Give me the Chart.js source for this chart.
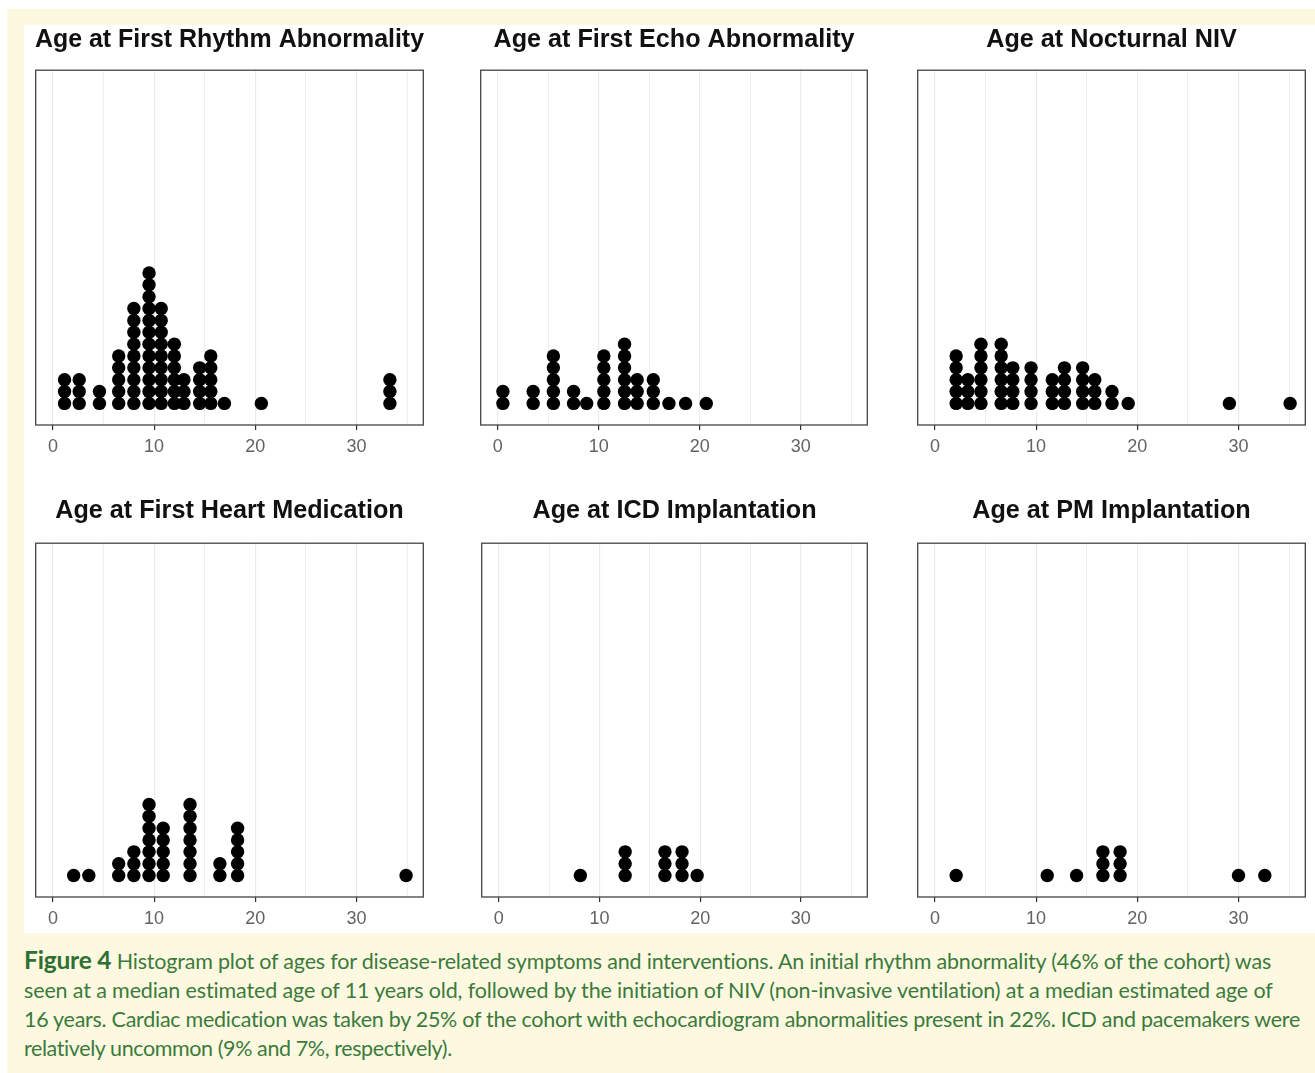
<!DOCTYPE html>
<html>
<head>
<meta charset="utf-8">
<title>Figure 4</title>
<script src="https://cdn.jsdelivr.net/npm/chart.js@4.4.1/dist/chart.umd.min.js"></script>
<style>
	body { margin: 0; background: #fff; width: 1315px; height: 1073px; position: relative; overflow: hidden; }
	#frame { position: absolute; left: 7px; top: 9px; width: 1308px; height: 1064px; background: #fdf9e1; }
	#figure { position: absolute; left: 24px; top: 25px; width: 1291px; height: 908px; background: #fff; }
	canvas { position: absolute; }
	#caption { position: absolute; left: 24px; top: 944.5px; font-family: Lato, "Open Sans", sans-serif; font-size: 21.5px; line-height: 29.3px; color: #3c7a3c; }
	#caption div { white-space: nowrap; display: block; width: max-content; }
	#caption b { color: #2f6f32; font-size: 24.5px; }
</style>
</head>
<body>
<div id="frame"></div>
<div id="figure"></div>
<canvas id="c1"></canvas>
<canvas id="c2"></canvas>
<canvas id="c3"></canvas>
<canvas id="c4"></canvas>
<canvas id="c5"></canvas>
<canvas id="c6"></canvas>
<div id="caption">
	<div data-w="1248"><b>Figure 4</b> Histogram plot of ages for disease-related symptoms and interventions. An initial rhythm abnormality (46% of the cohort) was</div>
	<div data-w="1251">seen at a median estimated age of 11 years old, followed by the initiation of NIV (non-invasive ventilation) at a median estimated age of</div>
	<div data-w="1277">16 years. Cardiac medication was taken by 25% of the cohort with echocardiogram abnormalities present in 22%. ICD and pacemakers were</div>
	<div data-w="429">relatively uncommon (9% and 7%, respectively).</div>
</div>
<script>
	"use strict";
	// ages (years) of each dot column, and how many patients are stacked in it
	var rhythmAges = [1.15, 2.6, 4.6, 6.5, 8.0, 9.5, 10.7, 12.0, 12.95, 14.5, 15.6, 16.95, 20.6, 33.3];
	var rhythmCounts = [3, 3, 2, 5, 9, 12, 9, 6, 3, 4, 5, 1, 1, 3];

	var echoAges = [0.5, 3.5, 5.5, 7.5, 8.8, 10.5, 12.55, 13.8, 15.4, 16.95, 18.6, 20.65];
	var echoCounts = [2, 2, 5, 2, 1, 5, 6, 3, 3, 1, 1, 1];

	var nivAges = [2.1, 3.25, 4.55, 6.55, 7.7, 9.5, 11.6, 12.8, 14.6, 15.8, 17.5, 19.1, 29.1, 35.1];
	var nivCounts = [5, 3, 6, 6, 4, 4, 3, 4, 4, 3, 2, 1, 1, 1];

	var heartAges = [2.05, 3.55, 6.5, 8.0, 9.5, 10.9, 13.55, 16.5, 18.25, 34.9];
	var heartCounts = [1, 1, 2, 3, 7, 5, 7, 2, 5, 1];

	var icdAges = [8.1, 12.55, 16.5, 18.2, 19.7];
	var icdCounts = [1, 3, 3, 3, 1];

	var pmAges = [2.1, 11.1, 14.0, 16.6, 18.3, 30.0, 32.6];
	var pmCounts = [1, 1, 1, 3, 3, 1, 1];

	var tickLabels = [0, 10, 20, 30];
	var gridAges = [0, 5, 10, 15, 20, 25, 30, 35];

	// where each panel sits on the page
	var panels = [
		{ id: 'c1', title: 'Age at First Rhythm Abnormality', ages: rhythmAges, counts: rhythmCounts, left: 35, width: 389, row: 0 },
		{ id: 'c2', title: 'Age at First Echo Abnormality', ages: echoAges, counts: echoCounts, left: 480, width: 388, row: 0 },
		{ id: 'c3', title: 'Age at Nocturnal NIV', ages: nivAges, counts: nivCounts, left: 917, width: 389, row: 0 },
		{ id: 'c4', title: 'Age at First Heart Medication', ages: heartAges, counts: heartCounts, left: 35, width: 389, row: 1 },
		{ id: 'c5', title: 'Age at ICD Implantation', ages: icdAges, counts: icdCounts, left: 481, width: 387, row: 1 },
		{ id: 'c6', title: 'Age at PM Implantation', ages: pmAges, counts: pmCounts, left: 917, width: 389, row: 1 }
	];
	var rows = [
		{ top: 15, height: 450, titleGap: 18 },
		{ top: 486, height: 451, titleGap: 20 }
	];
	var sidePad = 6;

	var panelBorder = {
		id: 'panelBorder',
		afterDraw: function(chart) {
			var ctx = chart.ctx, a = chart.chartArea;
			ctx.save();
			ctx.strokeStyle = '#444';
			ctx.lineWidth = 1.3;
			ctx.strokeRect(a.left, a.top, a.right - a.left, a.bottom - a.top);
			ctx.restore();
		}
	};

	function isMajor(v) {
		return tickLabels.indexOf(v) !== -1;
	}

	function makePanel(p) {
		var row = rows[p.row];
		var canvas = document.getElementById(p.id);
		canvas.width = p.width + sidePad * 2;
		canvas.height = row.height;
		canvas.style.left = (p.left - sidePad) + 'px';
		canvas.style.top = row.top + 'px';

		var points = [];
		for (var i = 0; i < p.ages.length; i++) {
			for (var k = 0; k < p.counts[i]; k++) {
				points.push({ x: p.ages[i], y: k });
			}
		}

		return new Chart(canvas, {
			type: 'scatter',
			data: {
				datasets: [{
					data: points,
					backgroundColor: '#000',
					borderWidth: 0,
					pointRadius: 6.7,
					pointHoverRadius: 6.7
				}]
			},
			options: {
				responsive: false,
				animation: false,
				events: [],
				layout: { padding: { left: sidePad, right: sidePad, top: 0, bottom: 0 } },
				plugins: {
					legend: { display: false },
					tooltip: { enabled: false },
					title: {
						display: true,
						text: p.title,
						color: '#111',
						font: { family: '"Liberation Sans", Arial, sans-serif', size: 25.2, weight: 'bold', lineHeight: 1 },
						padding: { top: 12, bottom: row.titleGap }
					}
				},
				scales: {
					x: {
						type: 'linear',
						min: -1.7,
						max: 36.6,
						afterBuildTicks: function(axis) {
							axis.ticks = gridAges.map(function(v) { return { value: v }; });
						},
						afterFit: function(axis) {
							axis.height = 40;
						},
						border: { display: false },
						grid: {
							color: '#ebebeb',
							lineWidth: function(ctx) { return ctx.tick && isMajor(ctx.tick.value) ? 1.2 : 0.8; },
							tickLength: 5,
							tickWidth: 1.2,
							tickColor: function(ctx) { return ctx.tick && isMajor(ctx.tick.value) ? '#333' : 'rgba(0,0,0,0)'; }
						},
						ticks: {
							autoSkip: false,
							maxRotation: 0,
							padding: 6,
							color: '#636363',
							font: { family: '"Liberation Sans", Arial, sans-serif', size: 18 },
							callback: function(v) { return isMajor(v) ? String(v) : ''; }
						}
					},
					y: {
						display: false,
						min: -1.82,
						max: 28.1
					}
				}
			},
			plugins: [panelBorder]
		});
	}

	panels.forEach(makePanel);

	// stretch each caption line to the width it has in the printed figure
	function fitCaption() {
		var lines = document.querySelectorAll('#caption div');
		lines.forEach(function(el) {
			el.style.letterSpacing = '0px';
			var target = parseFloat(el.getAttribute('data-w'));
			var w = el.getBoundingClientRect().width;
			var n = el.textContent.length - 1;
			el.style.letterSpacing = ((target - w) / n) + 'px';
		});
	}
	if (document.fonts && document.fonts.ready) {
		document.fonts.ready.then(fitCaption);
	} else {
		fitCaption();
	}
</script>
</body>
</html>
